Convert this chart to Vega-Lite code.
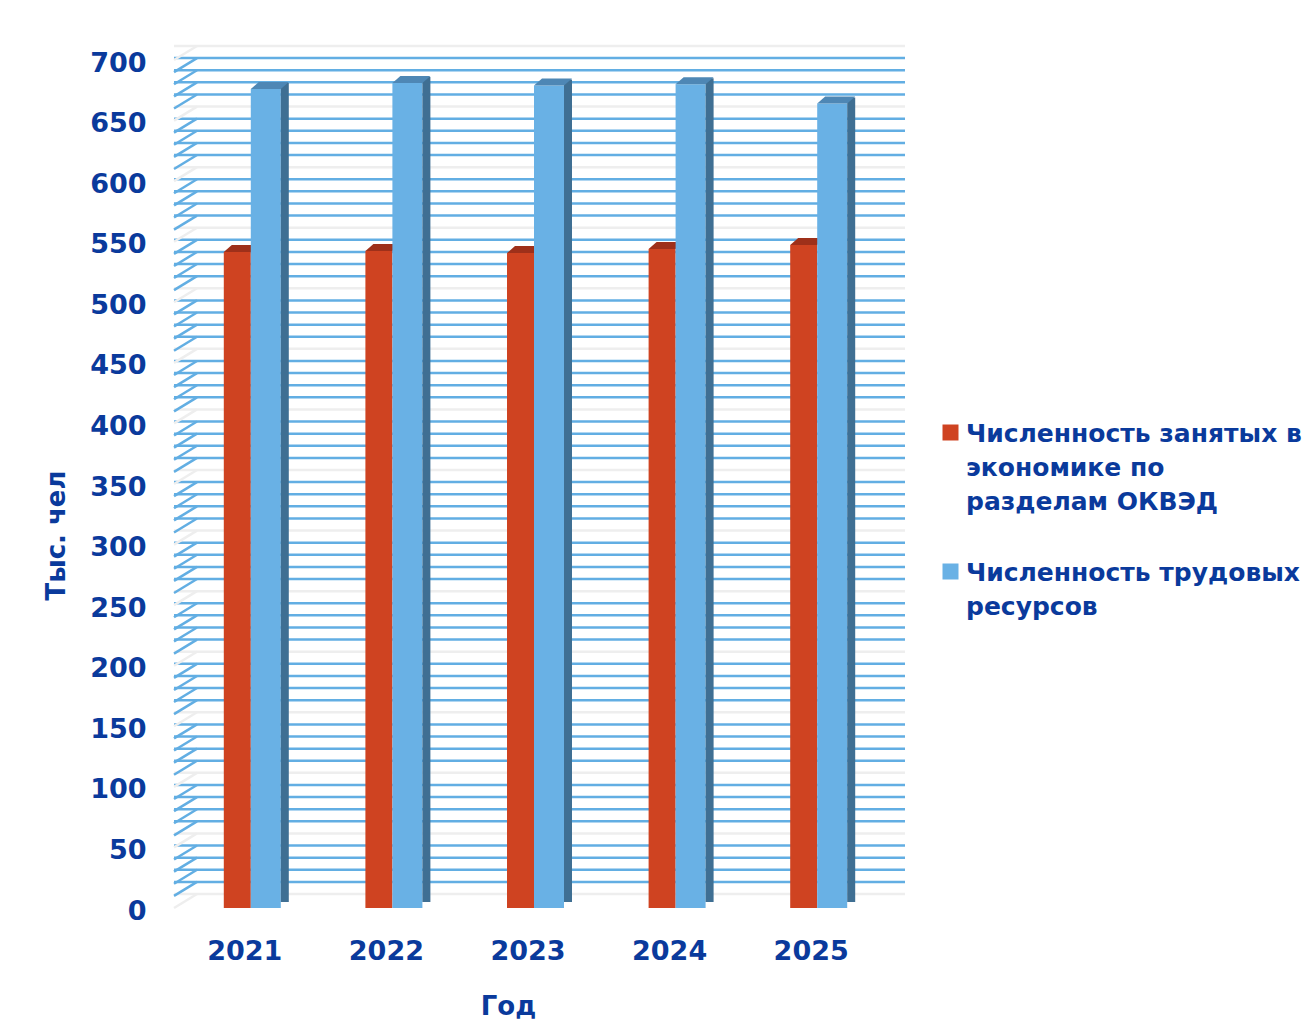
{
  "$schema": "https://vega.github.io/schema/vega-lite/v6.json",
  "width": 708,
  "height": 848,
  "autosize": {"type": "none"},
  "padding": {"left": 174, "top": 60, "right": 422, "bottom": 117},
  "background": "white",
  "config": {
    "view": {"stroke": null},
    "font": "DejaVu Sans",
    "axisX": {
      "labelAngle": 0, "ticks": false, "domain": false, "grid": false,
      "labelFontSize": 27, "labelFontWeight": "bold", "labelColor": "#0a3a9c", "labelPadding": 30,
      "titleFontSize": 26, "titleFontWeight": "bold", "titleColor": "#0a3a9c", "titlePadding": 29, "titleX": 334
    },
    "axisY": {
      "ticks": false, "domain": false, "grid": false,
      "labelFontSize": 27, "labelFontWeight": "bold", "labelColor": "#0a3a9c", "labelPadding": 28, "labelOffset": 3,
      "titleFontSize": 26, "titleFontWeight": "bold", "titleColor": "#0a3a9c", "titlePadding": 20, "titleY": 475
    }
  },
  "datasets": {
    "bars": [
      {"year": "2021", "series": "Численность занятых в экономике по разделам ОКВЭД", "value": 541.5},
      {"year": "2022", "series": "Численность занятых в экономике по разделам ОКВЭД", "value": 542.4},
      {"year": "2023", "series": "Численность занятых в экономике по разделам ОКВЭД", "value": 540.6},
      {"year": "2024", "series": "Численность занятых в экономике по разделам ОКВЭД", "value": 544.0},
      {"year": "2025", "series": "Численность занятых в экономике по разделам ОКВЭД", "value": 547.2},
      {"year": "2021", "series": "Численность трудовых ресурсов", "value": 676.0},
      {"year": "2022", "series": "Численность трудовых ресурсов", "value": 681.0},
      {"year": "2023", "series": "Численность трудовых ресурсов", "value": 679.0},
      {"year": "2024", "series": "Численность трудовых ресурсов", "value": 680.0},
      {"year": "2025", "series": "Численность трудовых ресурсов", "value": 664.0}
    ],
    "grid": [
      {"v": 0}, {"v": 10}, {"v": 20}, {"v": 30}, {"v": 40}, {"v": 50}, {"v": 60}, {"v": 70}, {"v": 80}, {"v": 90},
      {"v": 100}, {"v": 110}, {"v": 120}, {"v": 130}, {"v": 140}, {"v": 150}, {"v": 160}, {"v": 170}, {"v": 180}, {"v": 190},
      {"v": 200}, {"v": 210}, {"v": 220}, {"v": 230}, {"v": 240}, {"v": 250}, {"v": 260}, {"v": 270}, {"v": 280}, {"v": 290},
      {"v": 300}, {"v": 310}, {"v": 320}, {"v": 330}, {"v": 340}, {"v": 350}, {"v": 360}, {"v": 370}, {"v": 380}, {"v": 390},
      {"v": 400}, {"v": 410}, {"v": 420}, {"v": 430}, {"v": 440}, {"v": 450}, {"v": 460}, {"v": 470}, {"v": 480}, {"v": 490},
      {"v": 500}, {"v": 510}, {"v": 520}, {"v": 530}, {"v": 540}, {"v": 550}, {"v": 560}, {"v": 570}, {"v": 580}, {"v": 590},
      {"v": 600}, {"v": 610}, {"v": 620}, {"v": 630}, {"v": 640}, {"v": 650}, {"v": 660}, {"v": 670}, {"v": 680}, {"v": 690},
      {"v": 700}
    ]
  },
  "layer": [
    {
      "data": {"name": "grid"},
      "mark": {"type": "rule", "xOffset": 23, "x2Offset": 23, "yOffset": -14, "strokeWidth": 2.5},
      "encoding": {
        "y": {"field": "v", "type": "quantitative", "scale": {"domain": [0, 700], "nice": false, "zero": true},
              "axis": {"title": "Тыс. чел", "values": [0, 50, 100, 150, 200, 250, 300, 350, 400, 450, 500, 550, 600, 650, 700]}},
        "stroke": {"condition": {"test": "datum.v % 50 === 0", "value": "#eeeeee"}, "value": "#62aee3"}
      }
    },
    {
      "data": {"name": "grid"},
      "mark": {"type": "rule", "y2Offset": -14, "strokeWidth": 2.5},
      "encoding": {
        "x": {"value": 0},
        "x2": {"value": 23},
        "y": {"field": "v", "type": "quantitative",
              "axis": {"title": "Тыс. чел", "values": [0, 50, 100, 150, 200, 250, 300, 350, 400, 450, 500, 550, 600, 650, 700]}},
        "y2": {"field": "v"},
        "stroke": {"condition": {"test": "datum.v % 50 === 0", "value": "#eeeeee"}, "value": "#62aee3"}
      }
    },
    {
      "data": {"name": "bars"},
      "transform": [{"filter": "datum.series === 'Численность занятых в экономике по разделам ОКВЭД'"}],
      "mark": {"type": "bar", "width": 27, "xOffset": -7.5},
      "encoding": {
        "x": {"field": "year", "type": "nominal", "scale": {"paddingInner": 0, "paddingOuter": 0}, "axis": {"title": "Год"}},
        "y": {"field": "value", "type": "quantitative",
              "axis": {"title": "Тыс. чел", "values": [0, 50, 100, 150, 200, 250, 300, 350, 400, 450, 500, 550, 600, 650, 700]}},
        "color": {
          "field": "series", "type": "nominal",
          "scale": {
            "domain": ["Численность занятых в экономике по разделам ОКВЭД", "Численность трудовых ресурсов"],
            "range": ["#cf4321", "#69b1e5"]
          },
          "legend": {
            "title": null, "orient": "none", "legendX": 764, "legendY": 360,
            "symbolType": "square", "symbolSize": 256, "symbolStrokeWidth": 0, "labelOffset": 3,
            "labelFontSize": 25, "labelFontWeight": "bold", "labelColor": "#0a3a9c", "labelLimit": 1000,
            "labelBaseline": "top", "rowPadding": 44,
            "labelExpr": "datum.label == 'Численность трудовых ресурсов' ? ['Численность трудовых', 'ресурсов'] : ['Численность занятых в', 'экономике по', 'разделам ОКВЭД']",
            "encode": {"labels": {"update": {"lineHeight": {"value": 34}, "dy": {"value": -11}}}}
          }
        }
      }
    },
    {
      "data": {"name": "bars"},
      "transform": [{"filter": "datum.series === 'Численность занятых в экономике по разделам ОКВЭД'"}],
      "mark": {"type": "point", "shape": "M-0.675,0L0.675,0L1.075,-0.35L-0.275,-0.35Z", "size": 1600, "filled": true, "opacity": 1, "strokeWidth": 0, "color": "#9e301a", "xOffset": -7.5},
      "encoding": {
        "x": {"field": "year", "type": "nominal", "axis": {"title": "Год"}},
        "y": {"field": "value", "type": "quantitative",
              "axis": {"title": "Тыс. чел", "values": [0, 50, 100, 150, 200, 250, 300, 350, 400, 450, 500, 550, 600, 650, 700]}}
      }
    },
    {
      "data": {"name": "bars"},
      "transform": [{"filter": "datum.series === 'Численность трудовых ресурсов'"}],
      "mark": {"type": "bar", "width": 30, "xOffset": 21},
      "encoding": {
        "x": {"field": "year", "type": "nominal", "axis": {"title": "Год"}},
        "y": {"field": "value", "type": "quantitative",
              "axis": {"title": "Тыс. чел", "values": [0, 50, 100, 150, 200, 250, 300, 350, 400, 450, 500, 550, 600, 650, 700]}},
        "color": {"field": "series", "type": "nominal"}
      }
    },
    {
      "data": {"name": "bars"},
      "transform": [{"filter": "datum.series === 'Численность трудовых ресурсов'"}],
      "mark": {"type": "bar", "width": 8, "xOffset": 40, "yOffset": -6, "y2Offset": -4, "color": "#3f6f93"},
      "encoding": {
        "x": {"field": "year", "type": "nominal", "axis": {"title": "Год"}},
        "y": {"field": "value", "type": "quantitative",
              "axis": {"title": "Тыс. чел", "values": [0, 50, 100, 150, 200, 250, 300, 350, 400, 450, 500, 550, 600, 650, 700]}}
      }
    },
    {
      "data": {"name": "bars"},
      "transform": [{"filter": "datum.series === 'Численность трудовых ресурсов'"}],
      "mark": {"type": "point", "shape": "M-0.75,0L0.75,0L1.15,-0.35L-0.35,-0.35Z", "size": 1600, "filled": true, "opacity": 1, "strokeWidth": 0, "color": "#4e87b5", "xOffset": 21},
      "encoding": {
        "x": {"field": "year", "type": "nominal", "axis": {"title": "Год"}},
        "y": {"field": "value", "type": "quantitative",
              "axis": {"title": "Тыс. чел", "values": [0, 50, 100, 150, 200, 250, 300, 350, 400, 450, 500, 550, 600, 650, 700]}}
      }
    }
  ]
}
